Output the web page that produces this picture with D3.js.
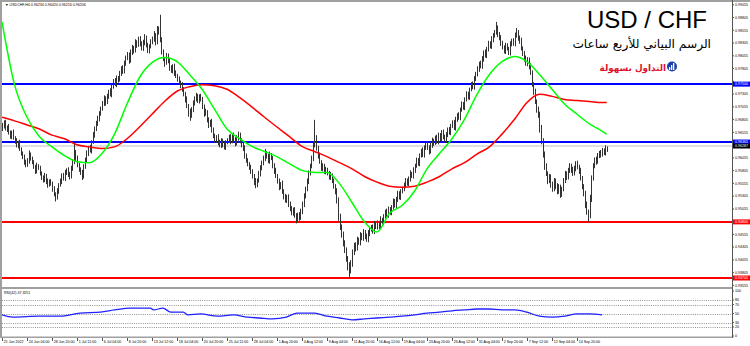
<!DOCTYPE html>
<html><head><meta charset="utf-8">
<script src="https://cdn.jsdelivr.net/npm/d3@7"></script>
<style>body{margin:0;background:#fff}svg{display:block}</style>
</head><body>
<svg id="c" width="750" height="346"></svg>
<script>
// ---------- DATA ----------
const xLabels = ["21 Jun 2022","24 Jun 04:00","28 Jun 20:00","1 Jul 12:00","6 Jul 04:00","8 Jul 20:00","13 Jul 12:00","18 Jul 04:00","20 Jul 20:00","25 Jul 12:00","28 Jul 04:00","1 Aug 20:00","4 Aug 12:00","9 Aug 04:00","11 Aug 20:00","16 Aug 12:00","19 Aug 04:00","23 Aug 20:00","26 Aug 12:00","31 Aug 04:00","2 Sep 20:00","7 Sep 12:00","12 Sep 04:00","14 Sep 20:00"];
const barsPerLabel = 16;
const firstOpen = 9662; // price x 10000
const closes = [
9668,9675,9662,9666,9655,9648,9656,9644,9638,9630,9636,9622,9615,9607,9598,9592,
9600,9612,9605,9596,9588,9580,9590,9586,9574,9568,9562,9570,9560,9552,9560,9555,
9545,9535,9528,9540,9552,9560,9572,9565,9576,9582,9574,9568,9584,9598,9615,9605,
9592,9584,9576,9570,9588,9602,9614,9626,9620,9636,9650,9662,9674,9682,9692,9702,
9712,9722,9714,9726,9736,9730,9746,9756,9750,9762,9758,9770,9782,9776,9790,9802,
9808,9796,9812,9822,9816,9832,9826,9838,9830,9820,9832,9842,9826,9816,9824,9832,
9838,9846,9832,9858,9852,9838,9812,9800,9792,9806,9796,9782,9776,9786,9772,9766,
9760,9754,9748,9740,9730,9720,9708,9694,9688,9700,9714,9720,9728,9718,9726,9720,
9706,9692,9696,9680,9670,9676,9660,9650,9640,9646,9636,9630,9640,9632,9626,9636,
9640,9646,9638,9650,9642,9634,9644,9652,9640,9630,9624,9610,9600,9594,9588,9578,
9570,9560,9552,9562,9575,9585,9596,9605,9615,9608,9600,9612,9605,9590,9580,9570,
9560,9548,9555,9540,9530,9522,9530,9515,9505,9498,9505,9492,9485,9495,9488,9500,
9515,9530,9545,9560,9575,9590,9605,9630,9645,9625,9610,9598,9585,9590,9578,9582,
9575,9568,9572,9560,9550,9540,9520,9490,9470,9455,9440,9425,9410,9395,9385,9400,
9420,9435,9428,9445,9440,9455,9448,9460,9452,9445,9458,9465,9470,9462,9476,9470,
9478,9472,9485,9480,9490,9500,9494,9505,9498,9510,9520,9512,9525,9535,9528,9540,
9545,9552,9560,9555,9565,9575,9570,9582,9590,9600,9595,9610,9620,9612,9625,9632,
9626,9618,9630,9640,9635,9645,9638,9650,9642,9655,9648,9640,9652,9660,9655,9668,
9675,9665,9680,9690,9685,9700,9710,9705,9720,9730,9725,9740,9750,9745,9760,9770,
9780,9790,9785,9800,9812,9806,9820,9830,9824,9838,9845,9852,9860,9848,9840,9830,
9822,9815,9825,9820,9812,9828,9835,9830,9845,9852,9840,9835,9820,9810,9800,9790,
9798,9785,9772,9750,9735,9715,9702,9690,9665,9640,9612,9590,9575,9560,9568,9555,
9545,9560,9552,9540,9548,9535,9545,9560,9575,9568,9580,9590,9582,9575,9585,9595,
9588,9580,9565,9550,9535,9515,9500,9492,9525,9565,9590,9602,9598,9610,9615,9612,
9620,9616,9624,9621];
const upperWick = [
6,4,5,3,6,4,3,5,4,6,3,5,4,3,5,4,
5,8,4,3,5,4,6,3,4,5,3,6,4,5,3,4,
4,5,3,6,4,5,3,4,6,3,5,4,6,5,20,6,
5,4,3,6,5,4,6,3,5,4,6,5,4,6,5,4,
5,6,4,5,3,6,5,4,6,5,4,6,3,5,6,4,
5,4,6,5,3,6,4,5,6,4,5,6,3,5,4,6,
5,8,4,6,5,34,4,6,3,5,4,6,5,3,4,5,
4,5,3,6,4,5,6,3,8,5,4,6,5,3,4,5,
5,4,6,3,5,4,6,5,3,4,6,5,4,3,5,4,
4,5,6,3,5,4,6,5,3,4,5,6,4,5,3,4,
5,4,6,3,5,6,4,5,8,4,5,6,3,4,5,6,
4,5,3,6,4,5,3,4,5,6,3,4,5,3,4,6,
5,6,4,5,6,4,5,8,35,5,4,6,3,5,4,6,
4,5,6,3,5,4,6,8,6,5,6,4,5,3,6,5,
6,4,5,6,4,5,3,6,4,5,6,3,4,5,6,4,
5,4,6,3,5,4,6,5,4,3,6,5,4,6,5,4,
4,5,6,5,4,6,3,5,4,6,5,4,3,6,5,4,
5,4,6,5,3,4,6,5,4,5,6,3,4,5,6,4,
4,5,6,3,5,4,6,5,4,6,5,3,4,5,6,4,
5,4,6,5,4,6,3,5,4,6,5,4,12,5,4,6,
5,4,6,5,3,6,4,5,6,8,4,5,6,4,5,6,
5,4,6,5,4,6,5,4,6,5,4,6,5,4,6,5,
4,6,5,4,6,5,4,6,5,4,6,5,4,6,5,4,
5,4,6,5,4,6,5,4,8,6,5,4,6,5,4,6,
5,4,6,4];
const lowerWick = [
4,5,3,6,4,5,6,3,5,4,6,3,5,4,6,5,
4,6,5,3,4,6,5,4,3,6,5,4,6,5,3,4,
6,5,8,4,5,3,6,4,5,4,6,5,3,4,5,6,
5,6,4,8,5,4,6,5,4,6,3,5,4,6,5,4,
4,5,6,3,5,4,6,5,4,6,5,3,4,6,5,4,
5,6,4,5,6,4,5,3,6,4,5,6,4,5,6,4,
4,5,6,4,5,6,4,5,8,4,5,6,4,5,6,4,
5,4,6,5,4,6,5,8,10,4,5,6,4,5,6,4,
5,6,4,5,6,4,5,6,4,5,6,4,5,6,4,5,
4,5,6,4,5,6,4,5,6,4,5,6,4,5,6,4,
5,8,6,4,5,6,4,5,6,4,5,6,4,5,6,4,
5,6,4,5,6,4,5,6,4,5,6,4,8,5,6,4,
5,6,4,5,6,4,5,6,4,5,6,4,5,6,4,5,
4,5,6,4,5,6,4,8,6,6,8,6,8,10,15,6,
8,5,6,4,5,6,4,5,6,4,5,6,4,5,6,4,
5,6,4,5,6,4,5,6,4,5,6,4,5,6,4,5,
4,5,6,4,5,6,4,5,6,4,5,6,4,5,6,4,
5,6,4,5,6,4,5,6,4,5,6,4,5,6,4,5,
4,5,6,4,5,6,4,5,6,4,5,6,4,5,6,4,
5,6,4,5,6,4,5,6,4,5,6,4,5,6,4,5,
4,5,6,4,5,6,4,5,6,4,5,6,4,5,6,4,
5,6,4,5,6,4,8,6,10,8,6,8,5,6,4,8,
6,5,8,6,5,8,6,5,4,6,5,4,6,5,4,6,
5,6,4,6,5,8,6,12,5,6,4,5,6,4,5,6,
4,5,6,4];
// moving averages sampled at these bars (price)
const maBars = [0,8,16,24,32,40,48,56,64,72,80,88,96,104,112,120,128,136,144,152,160,168,176,184,192,200,208,216,224,232,240,248,256,264,272,280,288,296,304,312,320,328,336,344,352,360,368,376,384,387];
const greenMA = [0.9872,0.9749,0.9685,0.9647,0.9627,0.9610,0.9598,0.9596,0.9614,0.9652,0.9711,0.9763,0.9792,0.9802,0.9794,0.9769,0.9740,0.9701,0.9662,0.9643,0.9628,0.9618,0.9608,0.9594,0.9581,0.9577,0.9577,0.9555,0.9518,0.9480,0.9460,0.9497,0.9512,0.9540,0.9584,0.9614,0.9643,0.9681,0.9730,0.9769,0.9794,0.9804,0.9794,0.9769,0.9740,0.9711,0.9691,0.9672,0.9658,0.9652];
const redMA = [0.9685,0.9678,0.9670,0.9662,0.9650,0.9643,0.9631,0.9627,0.9624,0.9627,0.9643,0.9666,0.9691,0.9716,0.9736,0.9745,0.9749,0.9747,0.9740,0.9724,0.9705,0.9685,0.9666,0.9647,0.9628,0.9618,0.9608,0.9596,0.9584,0.9569,0.9558,0.9550,0.9548,0.9550,0.9558,0.9569,0.9584,0.9596,0.9613,0.9627,0.9652,0.9681,0.9714,0.9730,0.9726,0.9720,0.9718,0.9716,0.9714,0.9714];
// RSI(42) sampled at these bars
const rsiBars = [0,7,24,37,50,63,72,82,95,97,103,108,116,119,127,138,148,157,165,173,182,189,200,208,216,224,232,240,248,256,264,272,280,288,296,304,312,320,328,336,344,352,360,368,376,384];
const rsiValues = [47,42,44,44,51,53,58,62,62,58,62,53,53,47,49,44,47,42,40,38,42,51,51,44,40,36,38,40,42,44,47,51,53,56,58,60,60,58,58,53,44,42,44,49,49,47];
const rsiLevels = [80,70,50,30,20];
const rsiTickLabels = [100,80,70,50,30,20,0];
const priceTicks = [0.99055,0.98805,0.98555,0.98305,0.98055,0.97805,0.97555,0.97305,0.97055,0.96805,0.96555,0.96305,0.96055,0.95805,0.95555,0.95305,0.95055,0.94805,0.94555,0.94305,0.94055,0.93805,0.93555];
const blueLevels = [0.97500, 0.96365];
const redLevels = [0.94800, 0.93700];
const bidPrice = 0.96287;
const headerText = "\u25BC USDCHF,H4  0.96234 0.96420 0.96216 0.96206";
const rsiHeader = "RSI(42) 47.3251";
const title = "USD / CHF";
const subtitle = "الرسم البياني للأربع ساعات";
const brand = "التداول بسهولة";

// ---------- LAYOUT ----------
const svg = d3.select('#c');
const axisX = 732;
const FONT = 'Liberation Sans, Arial, sans-serif';
const FS = 3.6;
const x = d3.scaleLinear().domain([0, 388]).range([2, 608.25]);
const y = d3.scaleLinear().domain([0.9370, 0.9909]).range([278, 3]);
const yr = d3.scaleLinear().domain([0, 100]).range([336, 291]);
const P = v => v / 10000;

svg.append('rect').attr('width',750).attr('height',346).attr('fill','#fff');

svg.append('rect').attr('x',0).attr('y',0).attr('width',750).attr('height',2).attr('fill','#a0a0a0');
svg.append('rect').attr('x',0).attr('y',0).attr('width',2).attr('height',338).attr('fill','#a0a0a0');
svg.append('rect').attr('x',0).attr('y',287).attr('width',axisX).attr('height',2).attr('fill','#a0a0a0');
svg.append('rect').attr('x',0).attr('y',336.5).attr('width',axisX).attr('height',1.5).attr('fill','#a0a0a0');
svg.append('line').attr('x1',axisX+0.5).attr('x2',axisX+0.5).attr('y1',0).attr('y2',338).attr('stroke','#555').attr('stroke-width',1);

const defs = svg.append('defs');
defs.append('clipPath').attr('id','mainClip').append('rect').attr('x',2).attr('y',2).attr('width',axisX-2).attr('height',285);
defs.append('clipPath').attr('id','rsiClip').append('rect').attr('x',2).attr('y',289).attr('width',axisX-2).attr('height',47);

const main = svg.append('g').attr('clip-path','url(#mainClip)');

main.append('line').attr('x1',2).attr('x2',axisX).attr('y1',y(bidPrice)).attr('y2',y(bidPrice)).attr('stroke','#c0c0c0').attr('stroke-width',1);

main.selectAll('.bl').data(blueLevels).enter().append('line')
  .attr('x1',2).attr('x2',axisX).attr('y1',d=>y(d)).attr('y2',d=>y(d))
  .attr('stroke','#0000ff').attr('stroke-width',2);
main.selectAll('.rl').data(redLevels).enter().append('line')
  .attr('x1',2).attr('x2',axisX).attr('y1',d=>y(d)).attr('y2',d=>y(d))
  .attr('stroke','#ff0000').attr('stroke-width',2);

const opens = [firstOpen].concat(closes.slice(0, -1));
const candles = closes.map((c,i) => {
  const o = opens[i];
  return {i, o:P(o), c:P(c), h:P(Math.max(o,c)+upperWick[i]), l:P(Math.min(o,c)-lowerWick[i])};
});
const cg = main.append('g');
cg.selectAll('line').data(candles).enter().append('line')
  .attr('x1',d=>Math.round(x(d.i))+0.5).attr('x2',d=>Math.round(x(d.i))+0.5)
  .attr('y1',d=>y(d.h)).attr('y2',d=>y(d.l))
  .attr('stroke','#333').attr('stroke-width',1);
cg.selectAll('rect').data(candles).enter().append('rect')
  .attr('x',d=>Math.round(x(d.i)))
  .attr('y',d=>y(Math.max(d.o,d.c)))
  .attr('width',1)
  .attr('height',d=>Math.max(1, Math.abs(y(d.o)-y(d.c))))
  .attr('fill','#333');

const line = d3.line().x(d=>x(d[0])).y(d=>y(d[1])).curve(d3.curveMonotoneX);
main.append('path').datum(maBars.map((b,i)=>[b,redMA[i]])).attr('d',line)
  .attr('fill','none').attr('stroke','#ff0000').attr('stroke-width',1.5);
main.append('path').datum(maBars.map((b,i)=>[b,greenMA[i]])).attr('d',line)
  .attr('fill','none').attr('stroke','#00ff00').attr('stroke-width',1.5);

svg.append('text').attr('x',5).attr('y',6).attr('font-family',FONT)
  .attr('font-size',FS).attr('fill','#000').text(headerText);

const tagPrices = blueLevels.concat([bidPrice]).concat(redLevels);
const pax = svg.append('g').attr('font-family',FONT).attr('font-size',FS).attr('fill','#000');
priceTicks.forEach(p => {
  const yy = y(p);
  pax.append('line').attr('x1',axisX).attr('x2',axisX+2).attr('y1',yy).attr('y2',yy).attr('stroke','#555');
  if (tagPrices.some(t => Math.abs(y(t)-yy) < 5)) return;
  pax.append('text').attr('x',axisX+3).attr('y',yy+1.3).text(p.toFixed(5));
});
function priceTag(p, bg){
  const yy = y(p);
  svg.append('rect').attr('x',axisX+1).attr('y',yy-2.5).attr('width',17).attr('height',5).attr('fill',bg);
  svg.append('text').attr('x',axisX+3).attr('y',yy+1.3).attr('font-family',FONT)
    .attr('font-size',FS).attr('fill','#fff').text(p.toFixed(5));
}
blueLevels.forEach(p=>priceTag(p,'#0000ff'));
priceTag(bidPrice,'#000');
redLevels.forEach(p=>priceTag(p,'#ff0000'));

const rsiG = svg.append('g').attr('clip-path','url(#rsiClip)');
rsiG.selectAll('.lv').data(rsiLevels).enter().append('line')
  .attr('x1',2).attr('x2',axisX).attr('y1',d=>Math.round(yr(d))+0.5).attr('y2',d=>Math.round(yr(d))+0.5)
  .attr('stroke','#777').attr('stroke-width',0.8).attr('stroke-dasharray','1,1.2');
const rline = d3.line().x(d=>x(d[0])).y(d=>yr(d[1])).curve(d3.curveMonotoneX);
rsiG.append('path').datum(rsiBars.map((b,i)=>[b,rsiValues[i]])).attr('d',rline)
  .attr('fill','none').attr('stroke','#2020ff').attr('stroke-width',1.3);
svg.append('text').attr('x',4).attr('y',294).attr('font-family',FONT)
  .attr('font-size',FS).attr('fill','#000').text(rsiHeader);
rsiTickLabels.forEach(v=>{
  const yy = yr(v);
  svg.append('line').attr('x1',axisX).attr('x2',axisX+2).attr('y1',yy).attr('y2',yy).attr('stroke','#555');
  svg.append('text').attr('x',axisX+3).attr('y',yy+1.3).attr('font-family',FONT)
    .attr('font-size',FS).attr('fill','#000').text(v);
});

const xax = svg.append('g').attr('font-family',FONT).attr('font-size',FS).attr('fill','#000');
xLabels.forEach((t,k)=>{
  const xx = Math.round(x(k*barsPerLabel))+0.5;
  xax.append('line').attr('x1',xx).attr('x2',xx).attr('y1',338).attr('y2',341).attr('stroke','#555');
  xax.append('text').attr('x',xx+1.2).attr('y',343).text(t);
});

svg.append('text').attr('x',707).attr('y',28).attr('text-anchor','end')
  .attr('font-family',FONT).attr('font-size',24).attr('fill','#000').text(title);
svg.append('text').attr('x',711).attr('y',48).attr('text-anchor','end')
  .attr('font-family','DejaVu Sans, sans-serif').attr('font-size',12.2).attr('fill','#000').text(subtitle);
svg.append('text').attr('x',666).attr('y',71).attr('text-anchor','end')
  .attr('font-family','DejaVu Sans, sans-serif').attr('font-weight','bold').attr('font-size',8.8).attr('fill','#e0102a').text(brand);
const ic = svg.append('g').attr('transform','translate(672,66.5)');
ic.append('circle').attr('r',5).attr('fill','#1a3fa8');
[[-3,0.5,3],[-1,-1.5,5],[1,-3.5,7]].forEach(b=>ic.append('rect').attr('x',b[0]).attr('y',b[1]).attr('width',1.3).attr('height',b[2]).attr('fill','#fff'));
</script>
</body></html>
